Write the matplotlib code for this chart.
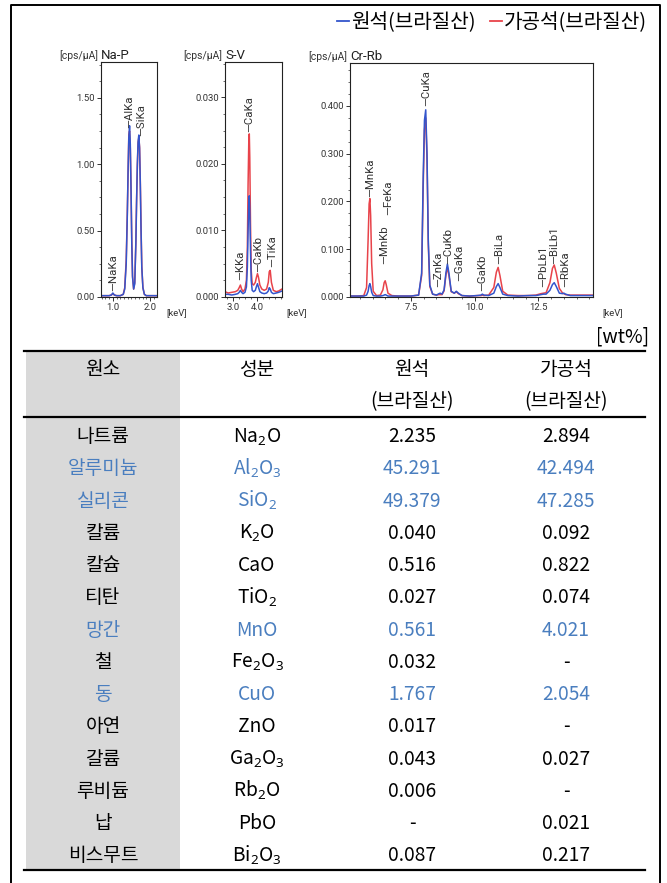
import matplotlib
matplotlib.use("Agg")
import matplotlib.pyplot as plt
from matplotlib.lines import Line2D
from matplotlib.patches import Rectangle
from matplotlib.ticker import MultipleLocator, FormatStrFormatter

plt.rcParams['font.family'] = ['Noto Sans CJK KR', 'DejaVu Sans']
plt.rcParams['mathtext.fontset'] = 'custom'
plt.rcParams['mathtext.rm'] = 'Noto Sans'
plt.rcParams['mathtext.it'] = 'Noto Sans:italic'
plt.rcParams['mathtext.bf'] = 'Noto Sans:bold'

BLUE = '#3355cc'
RED = '#e8434a'
TXT_BLUE = '#4a7ebf'

# ---- spectra (keV, cps/uA) ----
# Na-P
nap_kev = [0.68, 0.80, 0.90, 0.96, 1.00, 1.04, 1.10, 1.20, 1.28, 1.32, 1.36, 1.39,
           1.41, 1.43, 1.45, 1.47, 1.49, 1.51, 1.53, 1.56, 1.59, 1.62, 1.64, 1.66,
           1.68, 1.70, 1.72, 1.74, 1.76, 1.78, 1.81, 1.85, 1.90, 2.00, 2.10, 2.19]
nap_raw = [0.01, 0.01, 0.01, 0.015, 0.03, 0.015, 0.01, 0.01, 0.02, 0.06, 0.25, 0.62,
           0.95, 1.20, 1.29, 1.15, 0.80, 0.40, 0.15, 0.06, 0.10, 0.40, 0.72, 1.00,
           1.17, 1.22, 1.12, 0.85, 0.50, 0.22, 0.07, 0.02, 0.01, 0.01, 0.01, 0.01]
nap_proc = [0.01, 0.01, 0.01, 0.015, 0.025, 0.015, 0.01, 0.01, 0.02, 0.07, 0.28, 0.64,
            0.93, 1.22, 1.25, 1.12, 0.82, 0.42, 0.16, 0.06, 0.11, 0.42, 0.74, 0.98,
            1.16, 1.20, 1.13, 0.87, 0.52, 0.23, 0.07, 0.02, 0.01, 0.01, 0.01, 0.01]
nap_peaks = [("NaKa", 1.00, 0.045), ("AlKa", 1.45, 1.275), ("SiKa", 1.77, 1.21)]

# S-V
sv_kev = [2.67, 2.80, 2.95, 3.10, 3.20, 3.26, 3.31, 3.36, 3.42, 3.50, 3.56, 3.60,
          3.63, 3.66, 3.68, 3.70, 3.73, 3.76, 3.80, 3.86, 3.93, 3.98, 4.02, 4.06,
          4.12, 4.20, 4.30, 4.40, 4.47, 4.51, 4.55, 4.60, 4.68, 4.80, 4.90, 5.04]
sv_raw = [0.0004, 0.0004, 0.0003, 0.0004, 0.0005, 0.0007, 0.0010, 0.0007, 0.0005, 0.0007,
          0.0015, 0.0045, 0.0100, 0.0145, 0.0152, 0.0130, 0.0070, 0.0025, 0.0010, 0.0008,
          0.0010, 0.0016, 0.0020, 0.0015, 0.0008, 0.0006, 0.0005, 0.0006, 0.0009, 0.0014,
          0.0012, 0.0007, 0.0005, 0.0006, 0.0007, 0.0009]
sv_proc = [0.0008, 0.0006, 0.0007, 0.0008, 0.0010, 0.0014, 0.0018, 0.0012, 0.0008, 0.0012,
           0.0025, 0.0075, 0.0170, 0.0235, 0.0245, 0.0210, 0.0110, 0.0040, 0.0020, 0.0018,
           0.0022, 0.0030, 0.0035, 0.0030, 0.0018, 0.0012, 0.0010, 0.0012, 0.0022, 0.0038,
           0.0040, 0.0022, 0.0010, 0.0008, 0.0009, 0.0012]
sv_peaks = [("KKa", 3.30, 0.0026), ("CaKa", 3.68, 0.0248), ("CaKb", 4.07, 0.0038),
            ("TiKa", 4.62, 0.0045)]

# Cr-Rb
cr_kev = [5.11, 5.40, 5.65, 5.76, 5.82, 5.86, 5.89, 5.92, 5.96, 6.02, 6.15, 6.30,
          6.40, 6.45, 6.49, 6.53, 6.60, 6.75, 7.00, 7.50, 7.80, 7.92, 7.98, 8.03,
          8.08, 8.13, 8.18, 8.24, 8.35, 8.50, 8.60, 8.65, 8.72, 8.80, 8.87, 8.93,
          8.99, 9.08, 9.20, 9.28, 9.36, 9.50, 9.80, 10.10, 10.25, 10.30, 10.36, 10.55,
          10.75, 10.85, 10.92, 10.99, 11.10, 11.30, 11.70, 12.10, 12.40, 12.60, 12.70, 12.80,
          12.95, 13.05, 13.12, 13.20, 13.32, 13.45, 13.50, 13.56, 13.75, 14.10, 14.64]
cr_raw = [0.002, 0.002, 0.002, 0.004, 0.012, 0.024, 0.028, 0.022, 0.010, 0.003, 0.002, 0.002,
          0.003, 0.004, 0.005, 0.004, 0.002, 0.002, 0.002, 0.002, 0.004, 0.050, 0.250, 0.370,
          0.392, 0.300, 0.120, 0.025, 0.006, 0.004, 0.007, 0.008, 0.006, 0.015, 0.050, 0.069,
          0.050, 0.012, 0.008, 0.012, 0.008, 0.003, 0.002, 0.003, 0.004, 0.006, 0.004, 0.003,
          0.008, 0.022, 0.028, 0.020, 0.006, 0.003, 0.002, 0.003, 0.003, 0.005, 0.006, 0.006,
          0.014, 0.026, 0.030, 0.022, 0.008, 0.007, 0.008, 0.006, 0.003, 0.003, 0.003]
cr_proc = [0.002, 0.002, 0.003, 0.020, 0.120, 0.195, 0.206, 0.170, 0.070, 0.012, 0.003, 0.004,
           0.015, 0.030, 0.034, 0.026, 0.008, 0.003, 0.002, 0.002, 0.004, 0.045, 0.230, 0.350,
           0.375, 0.290, 0.110, 0.022, 0.006, 0.004, 0.005, 0.005, 0.005, 0.013, 0.045, 0.062,
           0.045, 0.011, 0.008, 0.011, 0.007, 0.003, 0.002, 0.003, 0.003, 0.004, 0.003, 0.004,
           0.020, 0.052, 0.062, 0.045, 0.012, 0.004, 0.003, 0.003, 0.004, 0.007, 0.008, 0.009,
           0.030, 0.060, 0.067, 0.050, 0.018, 0.008, 0.007, 0.005, 0.004, 0.004, 0.004]
cr_peaks = [("MnKa", 5.89, 0.209), ("MnKb", 6.46, 0.069), ("FeKa", 6.60, 0.171),
            ("CuKa", 8.09, 0.399), ("ZnKa", 8.56, 0.020), ("CuKb", 8.95, 0.070),
            ("GaKa", 9.38, 0.034), ("GaKb", 10.31, 0.013), ("BiLa", 10.95, 0.069),
            ("PbLb1", 12.67, 0.020), ("BiLb1", 13.12, 0.069), ("RbKa", 13.56, 0.020)]

# ---- composition table [wt%] ----
elements = ["나트륨", "알루미늄", "실리콘", "칼륨", "칼슘", "티탄", "망간", "철", "동",
            "아연", "갈륨", "루비듐", "납", "비스무트"]
compounds = ["Na$_2$O", "Al$_2$O$_3$", "SiO$_2$", "K$_2$O", "CaO", "TiO$_2$", "MnO",
             "Fe$_2$O$_3$", "CuO", "ZnO", "Ga$_2$O$_3$", "Rb$_2$O", "PbO", "Bi$_2$O$_3$"]
raw_pct = ["2.235", "45.291", "49.379", "0.040", "0.516", "0.027", "0.561", "0.032",
           "1.767", "0.017", "0.043", "0.006", "-", "0.087"]
proc_pct = ["2.894", "42.494", "47.285", "0.092", "0.822", "0.074", "4.021", "-",
            "2.054", "-", "0.027", "-", "0.021", "0.217"]
highlight = ["알루미늄", "실리콘", "망간", "동"]

W, H = 667, 883
fig = plt.figure(figsize=(W / 100, H / 100), dpi=100)

# background layer in pixel coordinates: frame + table
bg = fig.add_axes([0, 0, 1, 1])
bg.set_xlim(0, W)
bg.set_ylim(H, 0)
bg.axis('off')

bg.plot([10.5, 10.5, 660, 660], [H, 5, 5, H], color='black', lw=1.4)

tx0, tx1 = 24, 645
y_top, y_head, y_bot = 351, 417, 870
bg.add_patch(Rectangle((25.5, y_top), 180 - 25.5, y_bot - y_top, color='#d9d9d9', lw=0))
for yy in (y_top, y_head, y_bot):
    bg.plot([tx0, tx1], [yy, yy], color='black', lw=1.6)

col_x = [103, 257, 412, 566]
fs = 13.8
base = 7.2
bg.text(649, 335 + base, "[wt%]", ha='right', va='baseline', fontsize=fs)
bg.text(col_x[0], 368 + base, "원소", ha='center', va='baseline', fontsize=fs)
bg.text(col_x[1], 368 + base, "성분", ha='center', va='baseline', fontsize=fs)
bg.text(col_x[2], 368 + base, "원석", ha='center', va='baseline', fontsize=fs)
bg.text(col_x[3], 368 + base, "가공석", ha='center', va='baseline', fontsize=fs)
bg.text(col_x[2], 400 + base, "(브라질산)", ha='center', va='baseline', fontsize=fs)
bg.text(col_x[3], 400 + base, "(브라질산)", ha='center', va='baseline', fontsize=fs)

for i, el in enumerate(elements):
    yy = 435 + i * 32.25 + base
    c = TXT_BLUE if el in highlight else 'black'
    for x, s in zip(col_x, [el, compounds[i], raw_pct[i], proc_pct[i]]):
        bg.text(x, yy, s, ha='center', va='baseline', fontsize=fs, color=c)


def px_rect(x0, y0, x1, y1):
    return [x0 / W, 1 - y1 / H, (x1 - x0) / W, (y1 - y0) / H]


def spectrum(rect, kev, raw, proc, peaks, xlim, ylim, xticks, yticks, xminor, yminor,
             yfmt, xfmt, title, kev_dx):
    ax = fig.add_axes(rect)
    ax.plot(kev, proc, color=RED, lw=1.1)
    ax.plot(kev, raw, color=BLUE, lw=1.1)
    ax.set_xlim(*xlim)
    ax.set_ylim(*ylim)
    ax.set_xticks(xticks)
    ax.set_yticks(yticks)
    ax.xaxis.set_minor_locator(MultipleLocator(xminor))
    ax.yaxis.set_minor_locator(MultipleLocator(yminor))
    ax.yaxis.set_major_formatter(FormatStrFormatter(yfmt))
    ax.xaxis.set_major_formatter(FormatStrFormatter(xfmt))
    ax.tick_params(which='major', direction='out', length=3, width=0.7, labelsize=6.8,
                   colors='#333333', pad=1.5)
    ax.tick_params(which='minor', direction='out', length=1.6, width=0.5, colors='#333333')
    for lab in ax.get_xticklabels() + ax.get_yticklabels():
        lab.set_family('Roboto')
    for sp in ax.spines.values():
        sp.set_color('#222222')
        sp.set_linewidth(0.8)
    for name, x, y in peaks:
        ax.text(x, y, '\u2014' + name, rotation=90, ha='center', va='bottom',
                fontsize=8.2, family='Roboto', color='#333333')
    ax.annotate(title, xy=(0, 1), xycoords='axes fraction', xytext=(0, 2),
                textcoords='offset points', ha='left', va='baseline', fontsize=9.5,
                family='Roboto', color='#222222')
    ax.annotate('[cps/\u03bcA]', xy=(0, 1), xycoords='axes fraction', xytext=(-2, 2),
                textcoords='offset points', ha='right', va='baseline', fontsize=7.5,
                family='Roboto', color='#333333')
    ax.annotate('[keV]', xy=(1, 0), xycoords='axes fraction', xytext=(kev_dx, -11),
                textcoords='offset points', ha='left', va='center', fontsize=6.8,
                family='Roboto', color='#333333')
    return ax


spectrum(px_rect(101, 62, 157, 297), nap_kev, nap_raw, nap_proc, nap_peaks,
         (0.68, 2.19), (0, 1.77), [1.0, 2.0], [0, 0.5, 1.0, 1.5], 0.1, 0.125,
         '%.2f', '%.1f', 'Na-P', 6.5)
spectrum(px_rect(225, 62, 282, 297), sv_kev, sv_raw, sv_proc, sv_peaks,
         (2.67, 5.04), (0, 0.0353), [3.0, 4.0], [0, 0.01, 0.02, 0.03], 0.25, 0.0025,
         '%.3f', '%.1f', 'S-V', 3)
spectrum(px_rect(350, 63, 593, 297), cr_kev, cr_raw, cr_proc, cr_peaks,
         (5.11, 14.64), (0, 0.49), [7.5, 10.0, 12.5], [0, 0.1, 0.2, 0.3, 0.4], 0.5, 0.025,
         '%.3f', '%.1f', 'Cr-Rb', 7)

handles = [Line2D([], [], color=BLUE, lw=1.3), Line2D([], [], color=RED, lw=1.3)]
fig.legend(handles, ['원석(브라질산)', '가공석(브라질산)'], loc='upper right',
           bbox_to_anchor=(647 / W, 1 - 12 / H), ncol=2, frameon=False, fontsize=14.5,
           handlelength=0.6, handletextpad=0.1, columnspacing=0.7, borderaxespad=0,
           borderpad=0)

fig.savefig('out.png', dpi=100)
